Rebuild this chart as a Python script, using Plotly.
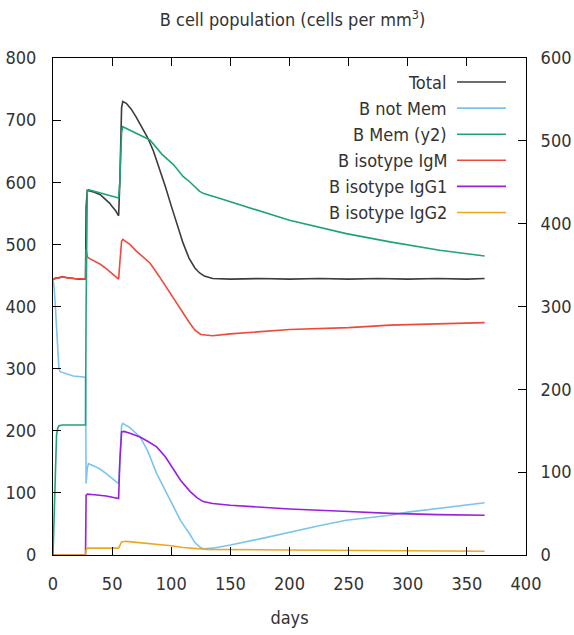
import plotly.graph_objects as go

# ---------------- data ----------------
total_days = [0, 1, 3, 5, 8, 10, 14, 18, 22, 27.5, 28, 29, 31, 35, 40, 45, 48, 50, 53, 55.5,
              56.5, 58, 59, 62, 66, 70, 75, 80, 85, 90, 95, 100, 105, 110, 115, 120, 124, 128,
              135, 150, 175, 200, 225, 250, 275, 300, 325, 350, 365]
total_vals = [444, 445, 446, 446, 448, 447, 446, 445, 444, 444, 560, 587, 586, 584, 580, 572, 566, 561, 554, 546,
              600, 720, 730, 727, 718, 706, 690, 672, 650, 622, 593, 562, 530, 502, 478, 462, 454, 449,
              445, 444, 445, 444, 445, 444, 445, 444, 445, 444, 445]

notmem_days = [0, 1, 2, 3, 4, 5, 6, 10, 17, 27.5, 28, 29, 30, 35, 40, 45, 50, 55.5,
               56.5, 58, 59, 65, 73.6, 80, 87.7, 95, 101.8, 108, 115.9, 120, 124, 127,
               135, 150, 175, 200, 225, 248, 285, 300, 327, 365]
notmem_vals = [445, 430, 400, 365, 325, 300, 295, 292, 288, 286, 115, 140, 147, 143, 138, 131, 124, 115,
               150, 208, 212, 205, 190, 168, 131, 103, 78, 55, 33, 20, 13, 10,
               11, 16, 26, 37, 47, 56, 64, 69, 75, 84]

mem_days = [0, 1, 2, 3, 4, 5, 8, 27.5, 28, 29, 30, 35, 40, 45, 50, 55.5,
            56.5, 58, 59, 65, 73.6, 82, 92, 102, 110, 116, 124, 128, 140, 158, 200, 248, 285, 327, 365]
mem_vals = [0, 60, 120, 145, 153, 156, 157, 157, 300, 438, 441, 439, 437, 435, 433, 431,
            450, 510, 517, 513, 507, 501, 484, 471, 457, 450, 439, 436, 431, 423, 404, 388, 378, 368, 361]

igm_days = [0, 3, 6, 8, 12, 18, 27.5, 28, 29, 31, 35, 40, 45, 50, 55.5,
            56.5, 58, 59, 65, 70, 75, 82, 90, 95, 102, 110, 115, 120, 125, 135, 150, 200, 250, 285, 320, 365]
igm_vals = [444, 445, 447, 448, 446, 445, 444, 492, 480, 477, 473, 468, 461, 453, 444,
            470, 505, 508, 500, 490, 481, 470, 448, 433, 413, 390, 375, 362, 355, 353, 356, 363, 366, 370, 372, 374]

igg1_days = [0, 27.5, 28, 29, 35, 45, 55.5, 56.5, 58, 60, 65, 73.6, 80, 87.7, 95, 101.8, 108, 116,
             122, 127, 135, 150, 200, 250, 285, 325, 365]
igg1_vals = [0, 0, 96, 98, 97, 95, 91, 150, 198, 199, 196, 190, 183, 174, 158, 137, 120, 102,
             92, 86, 83, 80, 74, 70, 67, 65, 64]

igg2_days = [0, 27.5, 28, 29, 40, 55.5, 56.5, 58, 62, 75, 90, 100, 110, 120, 130, 200, 300, 365]
igg2_vals = [0, 0, 8, 11, 11, 11, 15, 21, 22, 20, 17, 15, 12, 10, 9, 8, 7, 6]

series_names = ["Total", "B not Mem", "B Mem (y2)", "B isotype IgM", "B isotype IgG1", "B isotype IgG2"]
series_colors = ["#3c3c3c", "#7cc4ee", "#1fa27e", "#ee4a3c", "#9a1ee0", "#eaa820"]
series_days = [total_days, notmem_days, mem_days, igm_days, igg1_days, igg2_days]
series_vals = [total_vals, notmem_vals, mem_vals, igm_vals, igg1_vals, igg2_vals]
series_axis = ["y", "y", "y2", "y", "y", "y"]

x_ticks = [0, 50, 100, 150, 200, 250, 300, 350, 400]
y_ticks = [0, 100, 200, 300, 400, 500, 600, 700, 800]
y2_ticks = [0, 100, 200, 300, 400, 500, 600]

# ---------------- figure ----------------
FONT = "DejaVu Sans Condensed, Liberation Sans, Arial, sans-serif"
TXT = "#333333"
L, R, T, B = 53, 48, 58, 80
W, H = 574, 635
PW, PH = W - L - R, H - T - B

fig = go.Figure()
for name, col, d, v, ax in zip(series_names, series_colors, series_days, series_vals, series_axis):
    fig.add_trace(go.Scatter(x=d, y=v, mode="lines", name=name, yaxis=ax,
                             line=dict(color=col, width=1.6), showlegend=False))

# gnuplot-style legend: right-aligned text with sample line to its right
row_h = 26.1 / PH
y0 = (H - B - 82) / PH
for i, (name, col) in enumerate(zip(series_names, series_colors)):
    yy = y0 - i * row_h
    fig.add_annotation(x=(449 - L) / PW, y=yy, xref="paper", yref="paper",
                       text=name, showarrow=False, xanchor="right", yanchor="middle",
                       font=dict(family=FONT, size=18, color=TXT))
    fig.add_shape(type="line", xref="paper", yref="paper",
                  x0=(457 - L) / PW, x1=(506 - L) / PW, y0=yy, y1=yy,
                  line=dict(color=col, width=1.6))

axis_common = dict(showgrid=False, zeroline=False, showline=True, linecolor="black", linewidth=1,
                   ticks="inside", ticklen=8, tickcolor="black", tickwidth=1, automargin=False,
                   tickfont=dict(family=FONT, size=18, color=TXT))

fig.update_layout(
    width=W, height=H,
    margin=dict(l=L, r=R, t=T, b=B),
    plot_bgcolor="white", paper_bgcolor="white",
    title=dict(text="B cell population (cells per mm<sup>3</sup>)", x=(L + PW / 2 + 3) / W, xanchor="center",
               y=1 - 20 / H, yanchor="middle", font=dict(family=FONT, size=18, color=TXT)),
    xaxis=dict(range=[0, 400], tickvals=x_ticks, mirror="ticks", ticklabelstandoff=12,
               title=dict(text="days", standoff=18, font=dict(family=FONT, size=18, color=TXT)),
               **axis_common),
    yaxis=dict(range=[0, 800], tickvals=y_ticks, ticklabelstandoff=12, **axis_common),
    yaxis2=dict(range=[0, 600], tickvals=y2_ticks, overlaying="y", side="right",
                ticklabelstandoff=10, **axis_common),
    showlegend=False,
)

fig.write_html("out.html")
